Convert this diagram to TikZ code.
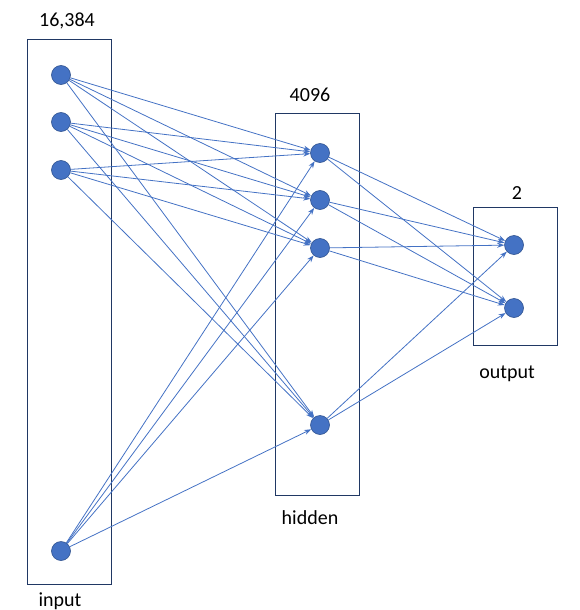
\documentclass[tikz,border=0pt]{standalone}
\usepackage{fontspec}
\setmainfont{Carlito}
\usetikzlibrary{arrows.meta}
\definecolor{edgeblue}{HTML}{4472C4}
\definecolor{nodeborder}{HTML}{2F528F}
\definecolor{boxblue}{HTML}{203864}
\begin{document}
\begin{tikzpicture}[x=1pt,y=-1pt,
  neuron/.style={circle,fill=edgeblue,draw=nodeborder,line width=0.6pt,minimum size=19pt,inner sep=0pt},
  layerbox/.style={draw=boxblue,line width=0.9pt},
  conn/.style={draw=edgeblue,line width=0.8pt,-{Stealth[length=7pt,width=5pt]}},
  lbl/.style={font=\fontsize{20}{24}\selectfont,inner sep=0pt}]
\useasboundingbox (0,0) rectangle (579,610);
% boxes
\draw[layerbox] (27,39) rectangle (111,584);
\draw[layerbox] (275,113) rectangle (359,495);
\draw[layerbox] (473,207) rectangle (557,345);
% labels
\node[lbl] (t1) at (67,21) {16,384};
\node[lbl] (t2) at (310,95) {4096};
\node[lbl] (t3) at (517,193) {2};
\node[lbl] (t4) at (507,374) {output};
\node[lbl] (t5) at (310,518) {hidden};
\node[lbl] (t6) at (60,601) {input};
% neurons
\node[neuron] (i1) at (61,75) {};
\node[neuron] (i2) at (61,122) {};
\node[neuron] (i3) at (61,170) {};
\node[neuron] (i4) at (61,551) {};
\node[neuron] (h1) at (320,153) {};
\node[neuron] (h2) at (320,200) {};
\node[neuron] (h3) at (320,248) {};
\node[neuron] (h4) at (320,425) {};
\node[neuron] (o1) at (514,245) {};
\node[neuron] (o2) at (514,308) {};
% connections
\foreach \a in {i1,i2,i3,i4}
  \foreach \b in {h1,h2,h3,h4}
    \draw[conn] (\a) -- (\b);
\foreach \a in {h1,h2,h3,h4}
  \foreach \b in {o1,o2}
    \draw[conn] (\a) -- (\b);
\end{tikzpicture}
\end{document}
